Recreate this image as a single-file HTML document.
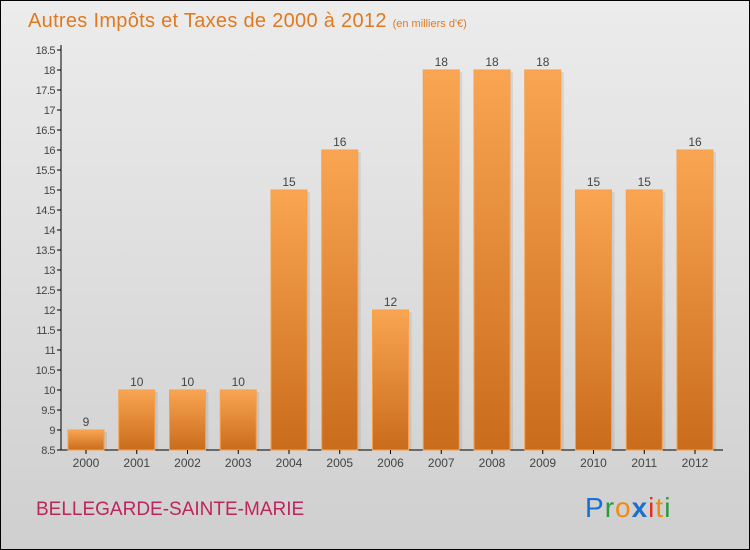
<!DOCTYPE html>
<html><head><meta charset="utf-8"><style>
body{margin:0;}
#c{width:750px;height:550px;position:relative;overflow:hidden;}
</style></head><body>
<div id="c">
<svg width="750" height="550" xmlns="http://www.w3.org/2000/svg" font-family="'Liberation Sans', sans-serif">
<defs>
<linearGradient id="bg" x1="0" y1="0" x2="0" y2="1"><stop offset="0" stop-color="#ececec"/><stop offset="1" stop-color="#cfcfcf"/></linearGradient>
<linearGradient id="bar" x1="0" y1="0" x2="0" y2="1"><stop offset="0" stop-color="#f9a552"/><stop offset="1" stop-color="#c96c1c"/></linearGradient>
</defs>
<rect x="0.5" y="0.5" width="749" height="549" fill="url(#bg)" stroke="#000"/>
<text x="28" y="27" font-size="20" fill="#e07a20" letter-spacing="0.3">Autres Impôts et Taxes de 2000 à 2012 <tspan font-size="11" letter-spacing="0">(en milliers d'€)</tspan></text>
<g id="axes"></g>
<g id="bars"></g>
<text x="36" y="515" font-size="19" fill="#c0245c">BELLEGARDE-SAINTE-MARIE</text>
<g font-size="28" letter-spacing="1">
<text x="585" y="517"><tspan fill="#1a6fcf">P</tspan><tspan fill="#2a9a3a">r</tspan><tspan fill="#f08a10">o</tspan><tspan fill="#1a6fcf" font-weight="bold">x</tspan><tspan fill="#e03020">i</tspan><tspan fill="#f08a10">t</tspan><tspan fill="#2a9a3a">i</tspan></text>
</g>
</svg>
</div>
<script>
const categories=["2000","2001","2002","2003","2004","2005","2006","2007","2008","2009","2010","2011","2012"];
const values=[9,10,10,10,15,16,12,18,18,18,15,15,16];
const yTicks=[8.5,9,9.5,10,10.5,11,11.5,12,12.5,13,13.5,14,14.5,15,15.5,16,16.5,17,17.5,18,18.5];
const NS="http://www.w3.org/2000/svg";
const yMin=8.5,yMax=18.5,y0=450,y1=50;
const yS=v=>y0-(v-yMin)/(yMax-yMin)*(y0-y1);
const xS=i=>68+i*50.75;
const bw=36;
function mk(t,a,p){const e=document.createElementNS(NS,t);for(const k in a)e.setAttribute(k,a[k]);p.appendChild(e);return e;}
const ax=document.getElementById('axes');
let l=mk('line',{x1:61,y1:y1-5,x2:61,y2:y0,stroke:'#000'},ax);


l=mk('line',{x1:61,y1:y0,x2:723,y2:y0,stroke:'#000'},ax);


yTicks.forEach(v=>{
 const y=yS(v);
 mk('line',{x1:57,y1:y,x2:61,y2:y,stroke:'#000'},ax);
 const t=mk('text',{x:55,y:y+4,'font-size':11,'text-anchor':'end',fill:'#444','letter-spacing':'-0.5'},ax);
 t.textContent=String(v);
 
 
});
const bg=document.getElementById('bars');
categories.forEach((c,i)=>{
 const x=xS(i),y=yS(values[i]);
 mk('rect',{x:x+3,y:y+2,width:bw,height:y0-y-2,fill:'#000',opacity:0.08},bg);
 const r=mk('rect',{x:x,y:y,width:bw,height:y0-y,fill:'url(#bar)',stroke:'#f6a04c','stroke-width':1},bg);
 
 
 const v=mk('text',{x:x+bw/2,y:y-4,'font-size':12,'text-anchor':'middle',fill:'#444'},bg);
 v.textContent=values[i];
 
 
 mk('line',{x1:x+bw/2,y1:y0,x2:x+bw/2,y2:y0+4,stroke:'#000'},bg);
 const t=mk('text',{x:x+bw/2,y:y0+17,'font-size':12,'text-anchor':'middle',fill:'#444'},bg);
 t.textContent=c;
 
 
});
</script>
</body></html>
